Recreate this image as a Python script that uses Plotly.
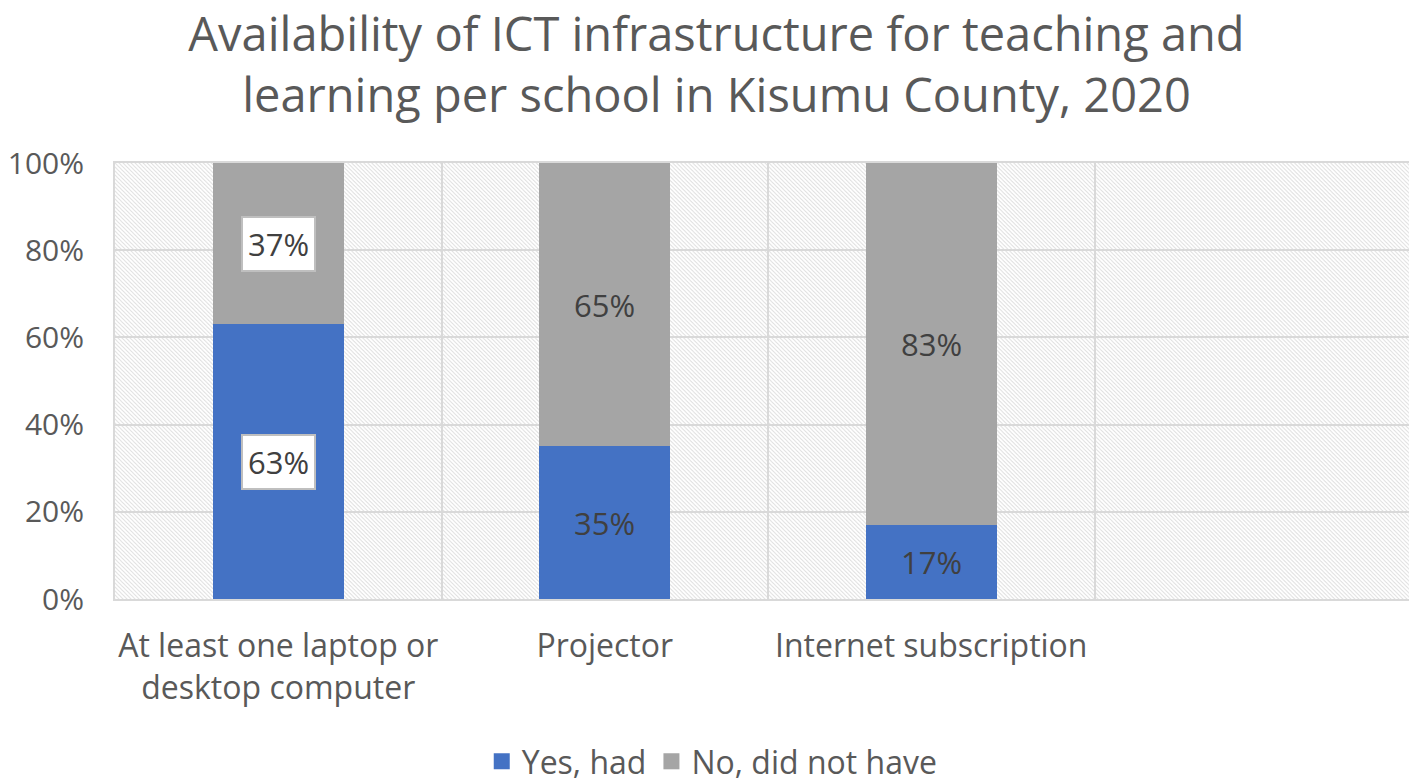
import base64
import plotly.graph_objects as go

categories = ["At least one laptop or<br>desktop computer", "Projector", "Internet subscription"]
yes_had = [63, 35, 17]
no_had = [37, 65, 83]
boxed = [True, False, False]
series_names = ["Yes, had", "No, did not have"]
y_ticks = [0, 20, 40, 60, 80, 100]
y_ticktext = ["0%", "20%", "40%", "60%", "80%", "100%"]

BLUE = "#4472C4"
GRAY = "#A5A5A5"
GRID = "#D9D9D9"
TXT = "#595959"
LBL = "#404040"
FONT = "Open Sans"

xpos = list(range(len(categories)))
colors = [BLUE, GRAY]

fig = go.Figure()
for vals, name, col in ((yes_had, series_names[0], BLUE), (no_had, series_names[1], GRAY)):
    fig.add_trace(go.Bar(x=xpos, y=vals, name=name, marker=dict(color=col, line=dict(width=0)),
                         width=0.4, showlegend=False, legendgroup=name))
# legend entries with larger square symbols
for name, col in zip(series_names, colors):
    fig.add_trace(go.Scatter(x=[None], y=[None], mode="markers", name=name, legendgroup=name,
                             marker=dict(symbol="square", size=16, color=col)))

annotations = []
for i in xpos:
    for val, base in ((yes_had[i], 0), (no_had[i], yes_had[i])):
        a = dict(x=i, y=base + val / 2, xref="x", yref="y", text=f"{val}%", showarrow=False,
                 font=dict(family=FONT, size=31, color=LBL))
        if boxed[i]:
            a.update(bgcolor="white", bordercolor="#BFBFBF", borderwidth=2, borderpad=5)
        annotations.append(a)

# hatched background for plot area
W, H = 1302, 436
svg = f'''<svg xmlns="http://www.w3.org/2000/svg" width="{W}" height="{H}" viewBox="0 0 {W} {H}">
<defs><pattern id="p" patternUnits="userSpaceOnUse" width="4" height="4">
<path d="M-1,-1 L5,5 M3,-1 L5,1 M-1,3 L1,5" stroke="#E0E0E0" stroke-width="1"/></pattern></defs>
<rect width="{W}" height="{H}" fill="white"/><rect width="{W}" height="{H}" fill="url(#p)"/></svg>'''
uri = "data:image/svg+xml;base64," + base64.b64encode(svg.encode()).decode()

fig.update_layout(
    width=1417, height=781,
    barmode="stack",
    paper_bgcolor="white", plot_bgcolor="white",
    margin=dict(l=107, r=4, t=155, b=190, autoexpand=False),
    font=dict(family=FONT, color=TXT, size=32),
    title=dict(text="Availability of ICT infrastructure for teaching and<br>learning per school in Kisumu County, 2020",
               x=0.5, xanchor="center", y=0.945, yanchor="top", yref="container",
               font=dict(family=FONT, size=47, color=TXT)),
    xaxis=dict(range=[-0.5, 3.5], tickvals=xpos, ticktext=categories, showgrid=False, zeroline=False,
               showline=True, linecolor=GRID, linewidth=2, mirror=True, automargin=False,
               ticks="outside", ticklen=18, tickcolor="rgba(0,0,0,0)",
               tickfont=dict(family=FONT, size=32, color=TXT),
               minor=dict(tick0=0.5, dtick=1, showgrid=True, gridcolor=GRID, gridwidth=2, ticks="")),
    yaxis=dict(range=[0, 100], tickvals=y_ticks, ticktext=y_ticktext, showgrid=True, gridcolor=GRID, gridwidth=2,
               zeroline=False, showline=True, linecolor=GRID, linewidth=2, mirror=True, automargin=False,
               ticks="outside", ticklen=23, tickcolor="rgba(0,0,0,0)",
               tickfont=dict(family=FONT, size=30, color=TXT)),
    legend=dict(orientation="h", x=0.497, xanchor="center", xref="container",
                y=0.0, yanchor="bottom", yref="container",
                traceorder="normal", font=dict(family=FONT, size=32, color=TXT), itemwidth=30),
    annotations=annotations,
    images=[dict(source=uri, xref="paper", yref="paper", x=0, y=1, sizex=1, sizey=1,
                 xanchor="left", yanchor="top", sizing="stretch", layer="below")],
    showlegend=True,
)

fig.write_html("out.html")
